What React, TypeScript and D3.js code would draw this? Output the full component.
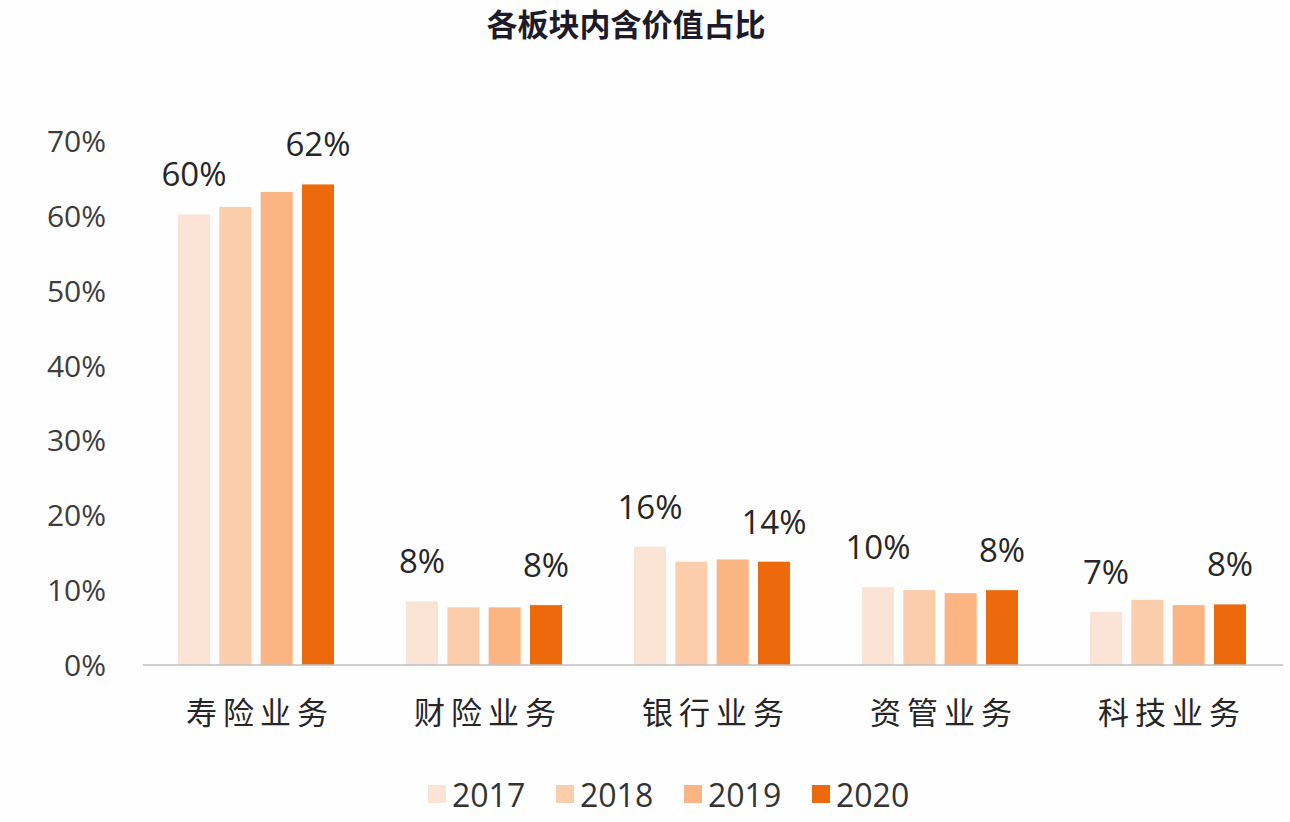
import React from "react";
import * as d3 from "d3";

const categories = ["寿险业务", "财险业务", "银行业务", "资管业务", "科技业务"];
const years = ["2017", "2018", "2019", "2020"];
const values2017 = [60.2, 8.5, 15.8, 10.4, 7.1];
const values2018 = [61.2, 7.7, 13.8, 10.0, 8.7];
const values2019 = [63.2, 7.7, 14.1, 9.6, 8.0];
const values2020 = [64.2, 8.0, 13.8, 10.0, 8.1];
const labels2017 = ["60%", "8%", "16%", "10%", "7%"];
const labels2020 = ["62%", "8%", "14%", "8%", "8%"];
const yTicks = [0, 10, 20, 30, 40, 50, 60, 70];
const colors = ["#fbe4d6", "#fccdab", "#fbb582", "#ed6a0c"];

const series = [values2017, values2018, values2019, values2020];

export default function App() {
  const W = 1290, H = 822;
  const x0 = d3.scaleBand().domain(categories).range([143, 1283]).paddingInner(0).paddingOuter(0);
  const x1 = d3.scaleBand().domain(years).range([35, 191]).paddingInner(0.225).paddingOuter(0);
  const y = d3.scaleLinear().domain([0, 70]).range([665, 141]);
  const font = "'Open Sans', 'Noto Sans CJK SC', sans-serif";
  return (
    <svg width={W} height={H} style={{ position: "absolute", left: 0, top: 0, background: "#fff" }}>
      <rect x={0} y={0} width={W} height={H} fill="#fefefe" />
      <text x={626} y={36} textAnchor="middle" fontFamily="'Noto Sans CJK SC', sans-serif" fontWeight={700} fontSize={31} fill="#1d1b2a">各板块内含价值占比</text>
      {yTicks.map((t) => (
        <text key={t} x={106} y={y(t) + 11} textAnchor="end" fontFamily={font} fontSize={30} fill="#3d3d3d">{t}%</text>
      ))}
      {categories.map((c, i) => (
        <g key={c} transform={`translate(${x0(c)},0)`}>
          {series.map((s, j) => (
            <rect key={j} x={x1(years[j])} y={y(s[i])} width={x1.bandwidth()} height={y(0) - y(s[i])} fill={colors[j]} />
          ))}
          <text x={(x1(years[0]) as number) + x1.bandwidth() / 2} y={y(values2017[i]) - 28} textAnchor="middle" fontFamily={font} fontSize={33} fill="#262626">{labels2017[i]}</text>
          <text x={(x1(years[3]) as number) + x1.bandwidth() / 2} y={y(values2020[i]) - 28} textAnchor="middle" fontFamily={font} fontSize={33} fill="#262626">{labels2020[i]}</text>
          <text x={x0.bandwidth() / 2 + 3} y={724} textAnchor="middle" fontFamily="'Noto Sans CJK SC', serif" fontSize={31} letterSpacing={6} fill="#262626">{c}</text>
        </g>
      ))}
      <line x1={143} x2={1283} y1={665} y2={665} stroke="#bfbfbf" strokeWidth={1.5} />
      {years.map((yr, j) => (
        <g key={yr} transform={`translate(${428 + j * 128},0)`}>
          <rect x={0} y={785} width={18} height={18} fill={colors[j]} />
          <text x={24} y={807} fontFamily={font} fontSize={32} fill="#333">{yr}</text>
        </g>
      ))}
    </svg>
  );
}
